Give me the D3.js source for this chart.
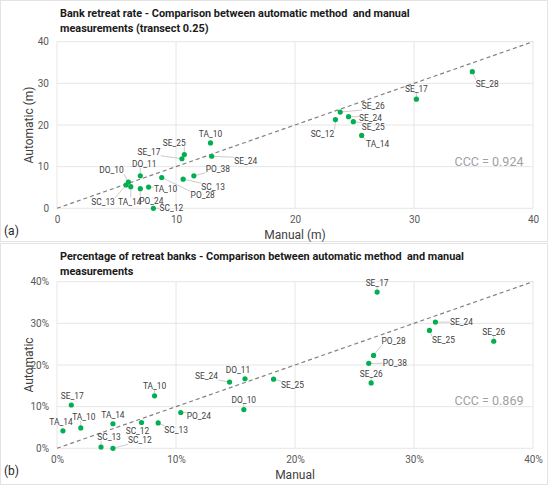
<!DOCTYPE html>
<html>
<head>
<meta charset="utf-8">
<script src="https://cdn.jsdelivr.net/npm/d3@7"></script>
<style>
  body { margin: 0; background: #fff; }
  text { font-family: Roboto, "Liberation Sans", sans-serif; }
</style>
</head>
<body>
<script>
// ---- data: (a) bank retreat rate, metres
var namesA = ['TA_10', 'SE_25', 'SE_17', 'SE_24', 'DO_11', 'PO_28', 'PO_38', 'SC_13', 'DO_10', 'SC_13', 'TA_14',
    'PO_24', 'TA_10', 'SC_12', 'SE_28', 'SE_17', 'SE_26', 'SC_12', 'SE_24', 'SE_25', 'TA_14'];
var manualA = [12.9, 10.7, 10.5, 13.0, 7.0, 8.8, 11.5, 10.6, 6.0, 5.8, 6.2, 7.0, 7.7, 8.1, 34.9, 30.2, 23.8, 23.4, 24.5, 24.9, 25.6];
var autoA = [15.7, 12.9, 11.9, 12.5, 7.8, 7.4, 7.8, 7.0, 6.3, 5.6, 5.2, 4.7, 5.1, 0.0, 32.8, 26.2, 23.1, 21.3, 22.0, 20.8, 17.5];

// ---- data: (b) percentage of retreat banks, %
var namesB = ['SE_17', 'TA_14', 'TA_10', 'TA_14', 'SC_13', 'SC_12', 'SC_12', 'SC_13', 'TA_10', 'PO_24', 'SE_24',
    'DO_11', 'DO_10', 'SE_25', 'SE_17', 'PO_28', 'PO_38', 'SE_26', 'SE_24', 'SE_25', 'SE_26'];
var manualB = [1.2, 0.5, 2.0, 4.7, 3.7, 4.7, 7.1, 8.5, 8.2, 10.4, 14.5, 15.8, 15.7, 18.2, 26.9, 26.6, 26.2, 26.4, 31.8, 31.3, 36.7];
var autoB = [10.4, 4.2, 4.9, 5.9, 0.3, 0.0, 6.2, 6.1, 12.6, 8.6, 15.9, 16.7, 9.3, 16.6, 37.5, 22.3, 20.4, 15.7, 30.3, 28.3, 25.7];

var ticksA = [0, 10, 20, 30, 40];
var tickLabelsA = ['0', '10', '20', '30', '40'];
var ticksB = [0, 10, 20, 30, 40];
var tickLabelsB = ['0%', '10%', '20%', '30%', '40%'];

// ---- label placement (px offsets of label centre from the point)
var labelOffsetsA = [[0, -9], [-10, -12], [-33, -7], [34, 5], [4, -12], [41, 18], [24, -7], [30, 8], [-17, -12],
    [-23, 17], [-1, 15], [11, 12], [17, 2], [18, 0], [15, 12], [0, -10], [33, -6], [-13, 14], [22, 1], [20, 5], [16, 9]];
var labelOffsetsB = [[1, -9], [-2, -9], [3, -11], [0, -9], [8, -10], [27, -8], [-4, 9], [18, 7], [0, -10], [18, 4],
    [-23, -6], [-7, -9], [0, -10], [19, 6], [0, -9], [20, -14], [26, 0], [0, -9], [26, 0], [14, 10], [0, -9]];

var W = 550, H = 488;
var svg = d3.select('body').append('svg').attr('width', W).attr('height', H);

function drawPanel(p) {
    var g = svg.append('g');

    // frame
    g.append('rect')
        .attr('x', 0.5).attr('y', p.frameTop + 0.5)
        .attr('width', 547).attr('height', p.frameHeight)
        .attr('fill', '#fff').attr('stroke', '#e3e3e3');

    var x = d3.scaleLinear().domain([0, 40]).range([57, 533]);
    var y = d3.scaleLinear().domain([0, 40]).range([p.plotBottom, p.plotTop]);

    // title
    var title = g.append('text')
        .attr('x', 60).attr('y', p.frameTop + 17)
        .attr('font-size', '10.9px').attr('font-weight', 'bold').attr('fill', '#1a1a1a')
        .style('white-space', 'pre');
    p.title.forEach(function (line, i) {
        title.append('tspan').attr('x', 60).attr('dy', i ? 15 : 0).text(line);
    });

    // gridlines
    g.append('g').selectAll('line').data(p.ticks).enter().append('line')
        .attr('x1', function (d) { return x(d); }).attr('x2', function (d) { return x(d); })
        .attr('y1', y(0)).attr('y2', y(40))
        .attr('stroke', '#e6e6e6');
    g.append('g').selectAll('line').data(p.ticks).enter().append('line')
        .attr('y1', function (d) { return y(d); }).attr('y2', function (d) { return y(d); })
        .attr('x1', x(0)).attr('x2', x(40))
        .attr('stroke', '#e6e6e6');

    // axes (labels only, Excel style)
    var xAxis = d3.axisBottom(x).tickValues(p.ticks)
        .tickFormat(function (d, i) { return p.tickLabels[i]; }).tickSize(0).tickPadding(8);
    var yAxis = d3.axisLeft(y).tickValues(p.ticks)
        .tickFormat(function (d, i) { return p.tickLabels[i]; }).tickSize(0).tickPadding(8);
    var gx = g.append('g').attr('transform', 'translate(0,' + p.plotBottom + ')').call(xAxis);
    var gy = g.append('g').attr('transform', 'translate(57,0)').call(yAxis);
    [gx, gy].forEach(function (a) {
        a.select('.domain').remove();
        a.selectAll('text').attr('font-size', '10px').attr('fill', '#595959')
            .attr('font-family', 'Roboto, sans-serif');
    });

    // axis titles
    g.append('text')
        .attr('transform', 'translate(33,' + (p.plotTop + p.plotBottom) / 2 + ') rotate(-90)')
        .attr('text-anchor', 'middle').attr('font-size', '12px').attr('fill', '#404040')
        .text(p.yTitle);
    g.append('text')
        .attr('x', 295).attr('y', p.plotBottom + 31)
        .attr('text-anchor', 'middle').attr('font-size', '12px').attr('fill', '#404040')
        .text(p.xTitle);

    // panel letter
    g.append('text')
        .attr('x', 4).attr('y', p.plotBottom + 27)
        .attr('font-size', '12px').attr('fill', '#262626')
        .text(p.letter);

    // 1:1 line
    g.append('line')
        .attr('x1', x(0)).attr('y1', y(0)).attr('x2', x(40)).attr('y2', y(40))
        .attr('stroke', '#808080').attr('stroke-width', 1.2).attr('stroke-dasharray', '4,3');

    // CCC
    g.append('text')
        .attr('x', 489).attr('y', p.cccY)
        .attr('text-anchor', 'middle').attr('dominant-baseline', 'central')
        .attr('font-size', '12.5px').attr('fill', '#a0a0a0')
        .text(p.ccc);

    var pts = p.names.map(function (n, i) {
        return { name: n, mx: p.manual[i], au: p.auto[i], off: p.offsets[i] };
    });

    var leaders = g.append('g');
    var labels = g.append('g').selectAll('text').data(pts).enter().append('text')
        .attr('x', function (d) { return x(d.mx) + d.off[0]; })
        .attr('y', function (d) { return y(d.au) + d.off[1]; })
        .attr('text-anchor', 'middle').attr('dominant-baseline', 'central')
        .attr('font-size', '8.4px').attr('fill', '#404040')
        .text(function (d) { return d.name; });

    // leader lines from dot to nearest edge of label box
    labels.each(function (d) {
        var b = this.getBBox();
        var px = x(d.mx), py = y(d.au);
        var cx = Math.max(b.x, Math.min(px, b.x + b.width));
        var cy = Math.max(b.y + 1, Math.min(py, b.y + b.height - 1));
        var dist = Math.hypot(cx - px, cy - py);
        if (dist > 5) {
            leaders.append('line')
                .attr('x1', px).attr('y1', py).attr('x2', cx).attr('y2', cy)
                .attr('stroke', '#bfbfbf').attr('stroke-width', 0.8);
        }
    });

    g.append('g').selectAll('circle').data(pts).enter().append('circle')
        .attr('cx', function (d) { return x(d.mx); })
        .attr('cy', function (d) { return y(d.au); })
        .attr('r', 2.6)
        .attr('fill', '#00b050');
}

drawPanel({
    frameTop: 0, frameHeight: 241,
    plotTop: 41.7, plotBottom: 208.3,
    title: ['Bank retreat rate - Comparison between automatic method  and manual', 'measurements (transect 0.25)'],
    ticks: ticksA, tickLabels: tickLabelsA,
    xTitle: 'Manual (m)', yTitle: 'Automatic (m)', letter: '(a)',
    ccc: 'CCC = 0.924', cccY: 161.3,
    names: namesA, manual: manualA, auto: autoA, offsets: labelOffsetsA
});

drawPanel({
    frameTop: 243, frameHeight: 241,
    plotTop: 281.7, plotBottom: 448.3,
    title: ['Percentage of retreat banks - Comparison between automatic method  and manual', 'measurements'],
    ticks: ticksB, tickLabels: tickLabelsB,
    xTitle: 'Manual', yTitle: 'Automatic', letter: '(b)',
    ccc: 'CCC = 0.869', cccY: 400.7,
    names: namesB, manual: manualB, auto: autoB, offsets: labelOffsetsB
});
</script>
</body>
</html>
